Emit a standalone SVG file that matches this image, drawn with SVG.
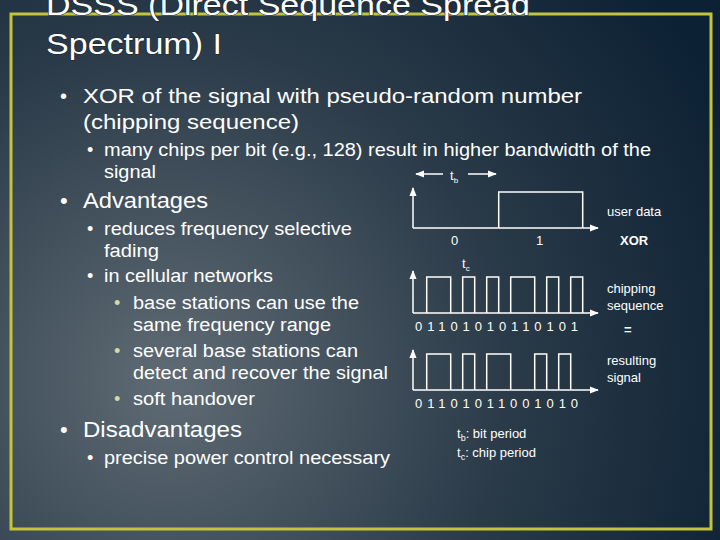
<svg xmlns="http://www.w3.org/2000/svg" width="720" height="540" viewBox="0 0 720 540">
<defs>
<radialGradient id="bg" cx="170" cy="380" r="620" gradientUnits="userSpaceOnUse">
<stop offset="0" stop-color="#5f6b74"/><stop offset="0.55" stop-color="#2a3a48"/><stop offset="1" stop-color="#0c2134"/>
</radialGradient>
<marker id="ar" viewBox="0 0 10 10" refX="9" refY="5" markerWidth="6" markerHeight="6" orient="auto-start-reverse"><path d="M0,1 L10,5 L0,9 z" fill="#fff"/></marker>
<style>
text{font-family:"Liberation Sans",Arial,sans-serif;fill:#fff}
.t{font-size:30px;stroke:#1a2630;stroke-width:1.2;paint-order:stroke}
.b1{font-size:20px}.b2{font-size:18px}.h{font-size:22px}
.s{font-size:13px}.d{font-size:13px}
.y{fill:#d8d8a0}
.ln{stroke:#fff;stroke-width:1.5;fill:none}
</style>
</defs>
<rect width="720" height="540" fill="url(#bg)"/>
<rect x="11" y="14" width="700" height="515" fill="none" stroke="#c4c43c" stroke-width="3"/>
<g id="title"><text class="t" x="46" y="15" textLength="484" lengthAdjust="spacingAndGlyphs">DSSS (Direct Sequence Spread</text><text class="t" x="46" y="54" textLength="176" lengthAdjust="spacingAndGlyphs">Spectrum) I</text></g>
<g id="bullets" lengthAdjust="spacingAndGlyphs">
<text class="b1" x="60" y="103">•</text><text class="b1" x="83" y="103" textLength="499" lengthAdjust="spacingAndGlyphs">XOR of the signal with pseudo-random number</text>
<text class="b1" x="83" y="129" textLength="216" lengthAdjust="spacingAndGlyphs">(chipping sequence)</text>
<text class="b2" x="87" y="156">•</text><text class="b2" x="104" y="156" textLength="547" lengthAdjust="spacingAndGlyphs">many chips per bit (e.g., 128) result in higher bandwidth of the</text>
<text class="b2" x="104" y="178" textLength="52" lengthAdjust="spacingAndGlyphs">signal</text>
<text class="h" x="60" y="208">•</text><text class="h" x="83" y="208" textLength="125" lengthAdjust="spacingAndGlyphs">Advantages</text>
<text class="b2" x="87" y="235">•</text><text class="b2" x="104" y="235" textLength="248" lengthAdjust="spacingAndGlyphs">reduces frequency selective</text>
<text class="b2" x="104" y="257" textLength="55" lengthAdjust="spacingAndGlyphs">fading</text>
<text class="b2" x="87" y="282">•</text><text class="b2" x="104" y="282" textLength="169" lengthAdjust="spacingAndGlyphs">in cellular networks</text>
<text class="b2 y" x="114" y="309">•</text><text class="b2" x="133" y="309" textLength="226" lengthAdjust="spacingAndGlyphs">base stations can use the</text>
<text class="b2" x="133" y="331" textLength="198" lengthAdjust="spacingAndGlyphs">same frequency range</text>
<text class="b2 y" x="114" y="357">•</text><text class="b2" x="133" y="357" textLength="225" lengthAdjust="spacingAndGlyphs">several base stations can</text>
<text class="b2" x="133" y="379" textLength="255" lengthAdjust="spacingAndGlyphs">detect and recover the signal</text>
<text class="b2 y" x="114" y="405">•</text><text class="b2" x="133" y="405" textLength="122" lengthAdjust="spacingAndGlyphs">soft handover</text>
<text class="h" x="60" y="437">•</text><text class="h" x="83" y="437" textLength="159" lengthAdjust="spacingAndGlyphs">Disadvantages</text>
<text class="b2" x="87" y="464">•</text><text class="b2" x="104" y="464" textLength="286" lengthAdjust="spacingAndGlyphs">precise power control necessary</text>
</g>
<g id="connectors">
<line class="ln" x1="443" y1="174" x2="416" y2="174" marker-end="url(#ar)"/>
<line class="ln" x1="468" y1="174" x2="496" y2="174" marker-end="url(#ar)"/>
<line class="ln" x1="413" y1="228" x2="413" y2="188" marker-end="url(#ar)"/>
<line class="ln" x1="413" y1="228" x2="598" y2="228" marker-end="url(#ar)"/>
<line class="ln" x1="413" y1="313" x2="413" y2="271" marker-end="url(#ar)"/>
<line class="ln" x1="413" y1="313" x2="598" y2="313" marker-end="url(#ar)"/>
<line class="ln" x1="413" y1="390" x2="413" y2="350" marker-end="url(#ar)"/>
<line class="ln" x1="413" y1="390" x2="598" y2="390" marker-end="url(#ar)"/>
</g>
<g id="userdata">
<path class="ln" d="M498.7,228 V192 H582.7 V228"/>
<text class="s" x="451" y="245">0</text><text class="s" x="536" y="245">1</text>
<text class="s" x="450" y="180">t<tspan font-size="8" dy="3">b</tspan></text>
<text class="s" x="607" y="216">user data</text>
<text class="s" x="620" y="245" font-weight="bold">XOR</text>
</g>
<g id="chipping">
<path class="ln" d="M426.7,313 V277 H450.7 V313 M462.7,313 V277 H474.7 V313 M486.7,313 V277 H498.7 V313 M510.7,313 V277 H534.7 V313 M546.7,313 V277 H558.7 V313 M570.7,313 V277 H582.7 V313"/>
<text class="s" x="462" y="268">t<tspan font-size="8" dy="3">c</tspan></text>
<text class="d" x="415" y="331" textLength="163" lengthAdjust="spacing">01101010110101</text>
<text class="s" x="607" y="293">chipping</text><text class="s" x="607" y="310">sequence</text>
<text class="s" x="624" y="334" font-weight="bold">=</text>
</g>
<g id="result">
<path class="ln" d="M426.7,390 V354 H450.7 V390 M462.7,390 V354 H474.7 V390 M486.7,390 V354 H510.7 V390 M534.7,390 V354 H546.7 V390 M558.7,390 V354 H570.7 V390"/>
<text class="d" x="415" y="408" textLength="163" lengthAdjust="spacing">01101011001010</text>
<text class="s" x="607" y="365">resulting</text><text class="s" x="607" y="382">signal</text>
</g>
<g id="legend">
<text class="s" x="457" y="438" font-size="14">t<tspan font-size="9" dy="3">b</tspan><tspan dy="-3">: bit period</tspan></text>
<text class="s" x="457" y="457" font-size="14">t<tspan font-size="9" dy="3">c</tspan><tspan dy="-3">: chip period</tspan></text>
</g>
</svg>
